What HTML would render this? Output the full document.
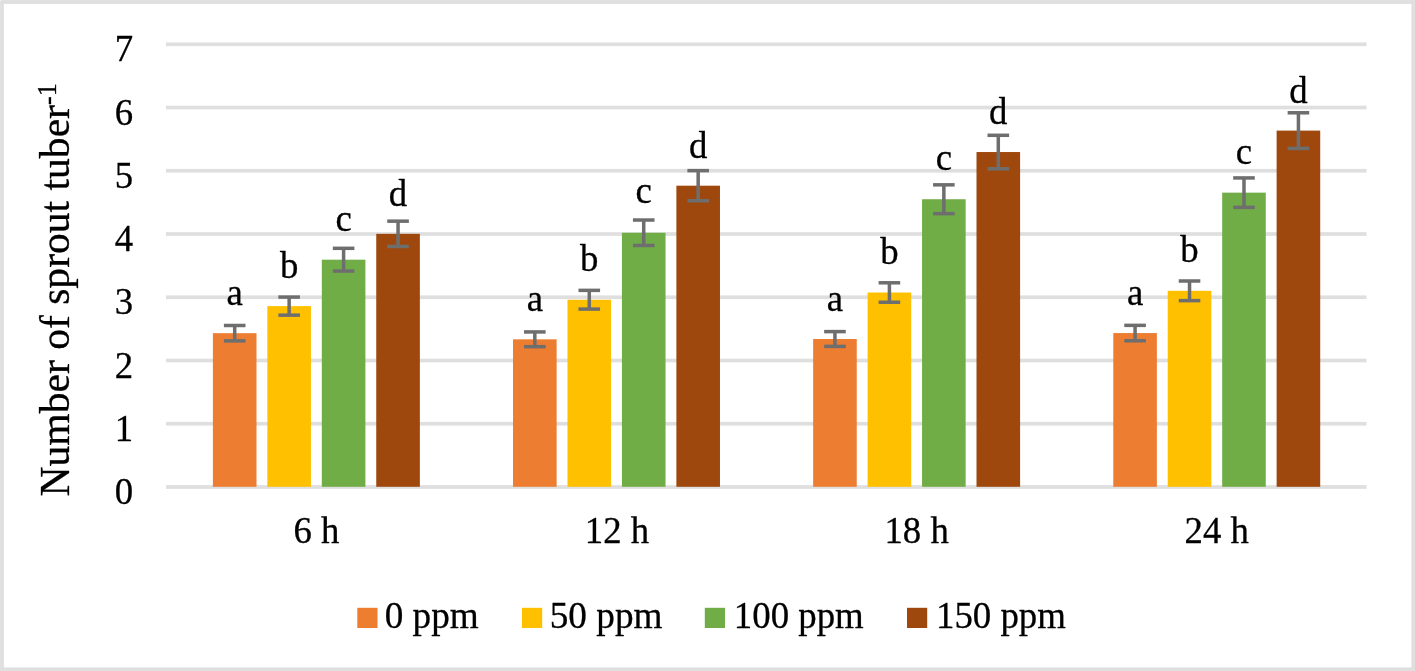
<!DOCTYPE html>
<html lang="en"><head><meta charset="utf-8"><title>Number of sprout per tuber</title>
<style>
html,body{margin:0;padding:0;}
body{width:1415px;height:671px;overflow:hidden;background:#e0e0e0;position:relative;font-family:"Liberation Serif","Times New Roman",serif;}
svg{position:absolute;left:0;top:0;display:block;will-change:transform;}
</style></head><body>
<svg width="1415" height="671" viewBox="0 0 1415 671" font-family="'Liberation Serif', 'Times New Roman', serif" fill="#000" stroke="#000" stroke-width="0.3" stroke-linejoin="round">
<rect stroke="none" x="0" y="0" width="1415" height="671" fill="#e0e0e0"/>
<rect stroke="none" x="2.4" y="2.2" width="1410.3999999999999" height="666.5999999999999" fill="#dddddd"/>
<rect stroke="none" x="3.8" y="3.8" width="1407.7" height="663.7" fill="#ffffff"/>
<rect stroke="none" x="0" y="0" width="1" height="1" fill="#f4f4f4"/>
<rect stroke="none" x="166.0" y="485.15" width="1200.5" height="3.7" fill="#dfdfdf"/>
<rect stroke="none" x="166.0" y="421.90" width="1200.5" height="3.7" fill="#dfdfdf"/>
<rect stroke="none" x="166.0" y="358.66" width="1200.5" height="3.7" fill="#dfdfdf"/>
<rect stroke="none" x="166.0" y="295.41" width="1200.5" height="3.7" fill="#dfdfdf"/>
<rect stroke="none" x="166.0" y="232.16" width="1200.5" height="3.7" fill="#dfdfdf"/>
<rect stroke="none" x="166.0" y="168.91" width="1200.5" height="3.7" fill="#dfdfdf"/>
<rect stroke="none" x="166.0" y="105.67" width="1200.5" height="3.7" fill="#dfdfdf"/>
<rect stroke="none" x="166.0" y="42.42" width="1200.5" height="3.7" fill="#dfdfdf"/>
<text transform="translate(133.00 504.00) scale(0.985 1.02)" font-size="37.33" text-anchor="end">0</text>
<text transform="translate(133.00 440.75) scale(0.985 1.02)" font-size="37.33" text-anchor="end">1</text>
<text transform="translate(133.00 377.51) scale(0.985 1.02)" font-size="37.33" text-anchor="end">2</text>
<text transform="translate(133.00 314.26) scale(0.985 1.02)" font-size="37.33" text-anchor="end">3</text>
<text transform="translate(133.00 251.01) scale(0.985 1.02)" font-size="37.33" text-anchor="end">4</text>
<text transform="translate(133.00 187.76) scale(0.985 1.02)" font-size="37.33" text-anchor="end">5</text>
<text transform="translate(133.00 124.52) scale(0.985 1.02)" font-size="37.33" text-anchor="end">6</text>
<text transform="translate(133.00 61.27) scale(0.985 1.02)" font-size="37.33" text-anchor="end">7</text>
<rect stroke="none" x="212.90" y="333.18" width="43.60" height="153.62" fill="#ED7D31"/>
<rect stroke="none" x="267.35" y="306.11" width="43.60" height="180.69" fill="#FFC000"/>
<rect stroke="none" x="321.80" y="259.69" width="43.60" height="227.11" fill="#70AD47"/>
<rect stroke="none" x="376.25" y="233.82" width="43.60" height="252.98" fill="#9E480E"/>
<rect stroke="none" x="513.02" y="339.32" width="43.60" height="147.48" fill="#ED7D31"/>
<rect stroke="none" x="567.48" y="299.73" width="43.60" height="187.07" fill="#FFC000"/>
<rect stroke="none" x="621.92" y="232.75" width="43.60" height="254.05" fill="#70AD47"/>
<rect stroke="none" x="676.38" y="185.69" width="43.60" height="301.11" fill="#9E480E"/>
<rect stroke="none" x="813.15" y="339.00" width="43.60" height="147.80" fill="#ED7D31"/>
<rect stroke="none" x="867.60" y="292.52" width="43.60" height="194.28" fill="#FFC000"/>
<rect stroke="none" x="922.05" y="199.23" width="43.60" height="287.57" fill="#70AD47"/>
<rect stroke="none" x="976.50" y="152.04" width="43.60" height="334.76" fill="#9E480E"/>
<rect stroke="none" x="1113.28" y="333.06" width="43.60" height="153.74" fill="#ED7D31"/>
<rect stroke="none" x="1167.73" y="290.81" width="43.60" height="195.99" fill="#FFC000"/>
<rect stroke="none" x="1222.18" y="192.65" width="43.60" height="294.15" fill="#70AD47"/>
<rect stroke="none" x="1276.62" y="130.60" width="43.60" height="356.20" fill="#9E480E"/>
<g fill="#6e6e6e"><rect stroke="none" x="232.95" y="325.49" width="3.5" height="15.38"/><rect stroke="none" x="223.90" y="323.74" width="21.6" height="3.5"/><rect stroke="none" x="223.90" y="339.12" width="21.6" height="3.5"/></g>
<text transform="translate(234.70 305.00) scale(0.985 1.0)" font-size="37.33" text-anchor="middle">a</text>
<g fill="#6e6e6e"><rect stroke="none" x="287.40" y="297.07" width="3.5" height="18.09"/><rect stroke="none" x="278.35" y="295.32" width="21.6" height="3.5"/><rect stroke="none" x="278.35" y="313.41" width="21.6" height="3.5"/></g>
<text transform="translate(289.15 278.20) scale(0.985 1.0)" font-size="37.33" text-anchor="middle">b</text>
<g fill="#6e6e6e"><rect stroke="none" x="341.85" y="248.32" width="3.5" height="22.73"/><rect stroke="none" x="332.80" y="246.57" width="21.6" height="3.5"/><rect stroke="none" x="332.80" y="269.31" width="21.6" height="3.5"/></g>
<text transform="translate(343.60 230.90) scale(0.985 1.0)" font-size="37.33" text-anchor="middle">c</text>
<g fill="#6e6e6e"><rect stroke="none" x="396.30" y="221.16" width="3.5" height="25.32"/><rect stroke="none" x="387.25" y="219.41" width="21.6" height="3.5"/><rect stroke="none" x="387.25" y="244.73" width="21.6" height="3.5"/></g>
<text transform="translate(398.05 205.90) scale(0.985 1.0)" font-size="37.33" text-anchor="middle">d</text>
<g fill="#6e6e6e"><rect stroke="none" x="533.07" y="331.93" width="3.5" height="14.77"/><rect stroke="none" x="524.02" y="330.18" width="21.6" height="3.5"/><rect stroke="none" x="524.02" y="344.95" width="21.6" height="3.5"/></g>
<text transform="translate(534.82 311.30) scale(0.985 1.0)" font-size="37.33" text-anchor="middle">a</text>
<g fill="#6e6e6e"><rect stroke="none" x="587.52" y="290.36" width="3.5" height="18.73"/><rect stroke="none" x="578.48" y="288.61" width="21.6" height="3.5"/><rect stroke="none" x="578.48" y="307.34" width="21.6" height="3.5"/></g>
<text transform="translate(589.27 271.20) scale(0.985 1.0)" font-size="37.33" text-anchor="middle">b</text>
<g fill="#6e6e6e"><rect stroke="none" x="641.97" y="220.03" width="3.5" height="25.43"/><rect stroke="none" x="632.92" y="218.28" width="21.6" height="3.5"/><rect stroke="none" x="632.92" y="243.71" width="21.6" height="3.5"/></g>
<text transform="translate(643.72 203.40) scale(0.985 1.0)" font-size="37.33" text-anchor="middle">c</text>
<g fill="#6e6e6e"><rect stroke="none" x="696.42" y="170.63" width="3.5" height="30.13"/><rect stroke="none" x="687.38" y="168.88" width="21.6" height="3.5"/><rect stroke="none" x="687.38" y="199.01" width="21.6" height="3.5"/></g>
<text transform="translate(698.17 157.50) scale(0.985 1.0)" font-size="37.33" text-anchor="middle">d</text>
<g fill="#6e6e6e"><rect stroke="none" x="833.20" y="331.60" width="3.5" height="14.80"/><rect stroke="none" x="824.15" y="329.85" width="21.6" height="3.5"/><rect stroke="none" x="824.15" y="344.65" width="21.6" height="3.5"/></g>
<text transform="translate(834.95 311.20) scale(0.985 1.0)" font-size="37.33" text-anchor="middle">a</text>
<g fill="#6e6e6e"><rect stroke="none" x="887.65" y="282.79" width="3.5" height="19.45"/><rect stroke="none" x="878.60" y="281.04" width="21.6" height="3.5"/><rect stroke="none" x="878.60" y="300.49" width="21.6" height="3.5"/></g>
<text transform="translate(889.40 264.40) scale(0.985 1.0)" font-size="37.33" text-anchor="middle">b</text>
<g fill="#6e6e6e"><rect stroke="none" x="942.10" y="184.84" width="3.5" height="28.78"/><rect stroke="none" x="933.05" y="183.09" width="21.6" height="3.5"/><rect stroke="none" x="933.05" y="211.86" width="21.6" height="3.5"/></g>
<text transform="translate(943.85 170.40) scale(0.985 1.0)" font-size="37.33" text-anchor="middle">c</text>
<g fill="#6e6e6e"><rect stroke="none" x="996.55" y="135.30" width="3.5" height="33.50"/><rect stroke="none" x="987.50" y="133.55" width="21.6" height="3.5"/><rect stroke="none" x="987.50" y="167.04" width="21.6" height="3.5"/></g>
<text transform="translate(998.30 123.90) scale(0.985 1.0)" font-size="37.33" text-anchor="middle">d</text>
<g fill="#6e6e6e"><rect stroke="none" x="1133.33" y="325.36" width="3.5" height="15.39"/><rect stroke="none" x="1124.28" y="323.61" width="21.6" height="3.5"/><rect stroke="none" x="1124.28" y="339.00" width="21.6" height="3.5"/></g>
<text transform="translate(1135.08 304.70) scale(0.985 1.0)" font-size="37.33" text-anchor="middle">a</text>
<g fill="#6e6e6e"><rect stroke="none" x="1187.78" y="281.00" width="3.5" height="19.62"/><rect stroke="none" x="1178.73" y="279.25" width="21.6" height="3.5"/><rect stroke="none" x="1178.73" y="298.87" width="21.6" height="3.5"/></g>
<text transform="translate(1189.53 261.70) scale(0.985 1.0)" font-size="37.33" text-anchor="middle">b</text>
<g fill="#6e6e6e"><rect stroke="none" x="1242.23" y="177.93" width="3.5" height="29.44"/><rect stroke="none" x="1233.18" y="176.18" width="21.6" height="3.5"/><rect stroke="none" x="1233.18" y="205.62" width="21.6" height="3.5"/></g>
<text transform="translate(1243.98 164.40) scale(0.985 1.0)" font-size="37.33" text-anchor="middle">c</text>
<g fill="#6e6e6e"><rect stroke="none" x="1296.67" y="112.78" width="3.5" height="35.64"/><rect stroke="none" x="1287.62" y="111.03" width="21.6" height="3.5"/><rect stroke="none" x="1287.62" y="146.67" width="21.6" height="3.5"/></g>
<text transform="translate(1298.42 102.80) scale(0.985 1.0)" font-size="37.33" text-anchor="middle">d</text>
<text transform="translate(316.36 543.40) scale(0.985 1.02)" font-size="37.33" text-anchor="middle">6 h</text>
<text transform="translate(616.99 543.40) scale(0.985 1.02)" font-size="37.33" text-anchor="middle">12 h</text>
<text transform="translate(916.61 543.40) scale(0.985 1.02)" font-size="37.33" text-anchor="middle">18 h</text>
<text transform="translate(1216.74 543.40) scale(0.985 1.02)" font-size="37.33" text-anchor="middle">24 h</text>
<rect stroke="none" x="357.3" y="607.8" width="20.2" height="20.2" fill="#ED7D31"/>
<text transform="translate(384.70 628.00) scale(0.997 1.02)" font-size="37.33" text-anchor="start">0 ppm</text>
<rect stroke="none" x="522.0" y="607.8" width="20.2" height="20.2" fill="#FFC000"/>
<text transform="translate(549.70 628.00) scale(0.998 1.02)" font-size="37.33" text-anchor="start">50 ppm</text>
<rect stroke="none" x="704.8" y="607.8" width="20.2" height="20.2" fill="#70AD47"/>
<text transform="translate(733.80 628.00) scale(0.987 1.02)" font-size="37.33" text-anchor="start">100 ppm</text>
<rect stroke="none" x="907.0" y="607.8" width="20.2" height="20.2" fill="#9E480E"/>
<text transform="translate(936.00 628.00) scale(0.987 1.02)" font-size="37.33" text-anchor="start">150 ppm</text>
<text transform="translate(68.7 496.5) rotate(-90) scale(0.9746 1)" font-size="42.67">Number of sprout tuber<tspan font-size="27" dy="-12.5">-1</tspan></text>
</svg>
</body></html>
